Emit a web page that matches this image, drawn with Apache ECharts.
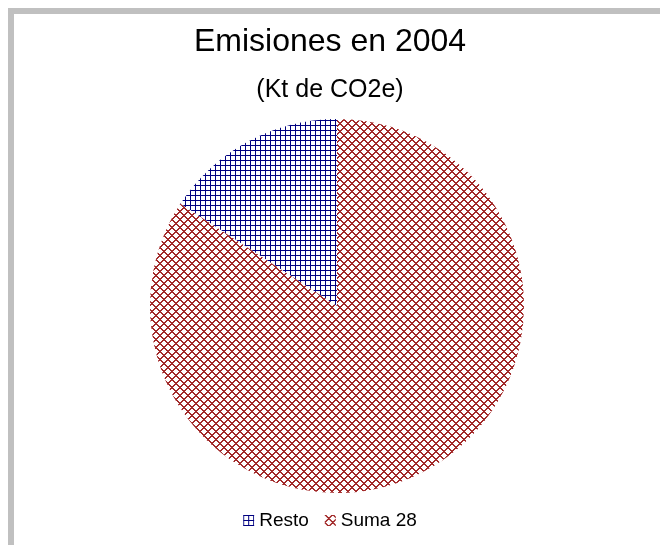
<!DOCTYPE html>
<html>
<head>
<meta charset="utf-8">
<script src="https://cdn.jsdelivr.net/npm/echarts@6/dist/echarts.min.js"></script>
<style>
  html, body { margin: 0; padding: 0; background: #fff; }
  #frame { position: absolute; left: 8px; top: 8px; width: 652px; height: 537px;
           border-top: 6px solid #c0c0c0; border-left: 6px solid #c0c0c0; box-sizing: border-box; }
  #main { position: absolute; left: 0; top: 0; width: 660px; height: 545px; }
</style>
</head>
<body>
<div id="frame"></div>
<div id="main"></div>
<script>
var titleText = 'Emisiones en 2004';
var subtitleText = '(Kt de CO2e)';
var categories = ['Resto', 'Suma 28'];
var values = [15.8, 84.2];

function gridPattern(color) {
    var c = document.createElement('canvas');
    c.width = 5; c.height = 5;
    var g = c.getContext('2d');
    g.fillStyle = '#fff';
    g.fillRect(0, 0, 5, 5);
    g.fillStyle = color;
    g.fillRect(0, 0, 5, 1);
    g.fillRect(0, 0, 1, 5);
    return c;
}

function crossPattern(color) {
    var n = 8;
    var c = document.createElement('canvas');
    c.width = n; c.height = n;
    var g = c.getContext('2d');
    g.fillStyle = '#fff';
    g.fillRect(0, 0, n, n);
    g.fillStyle = color;
    for (var i = 0; i < n; i++) {
        g.fillRect(i, i, 1, 1);
        g.fillRect((i + 1) % n, i, 1, 1);
        g.fillRect(n - 1 - i, i, 1, 1);
        g.fillRect((2 * n - 2 - i) % n, i, 1, 1);
    }
    return c;
}

var fills = [
    { image: gridPattern('#000080'), repeat: 'repeat' },
    { image: crossPattern('#a22a2a'), repeat: 'repeat' }
];

var arr = [];
for (var i = 0; i < categories.length; i++) {
    arr.push({ name: categories[i], value: values[i], itemStyle: { color: fills[i] } });
}

var myChart = echarts.init(document.getElementById('main'));
var option = {
    backgroundColor: 'transparent',
    animation: false,
    title: [
        { text: titleText, left: 'center', top: 21,
          textStyle: { fontFamily: 'Liberation Sans, Arial', fontSize: 32, fontWeight: 'normal', color: '#000' } },
        { text: subtitleText, left: 'center', top: 73,
          textStyle: { fontFamily: 'Liberation Sans, Arial', fontSize: 25, fontWeight: 'normal', color: '#000' } }
    ],
    legend: {
        data: categories,
        bottom: 10,
        left: 'center',
        icon: 'rect',
        itemWidth: 11,
        itemHeight: 11,
        itemGap: 16,
        textStyle: { fontFamily: 'Liberation Sans, Arial', fontSize: 19, color: '#000' }
    },
    series: [
        {
            type: 'pie',
            radius: 187,
            center: [337, 306],
            startAngle: 90,
            clockwise: false,
            label: { show: false },
            labelLine: { show: false },
            itemStyle: { borderWidth: 0 },
            emphasis: { disabled: true },
            data: arr
        }
    ]
};
myChart.setOption(option);
</script>
</body>
</html>
